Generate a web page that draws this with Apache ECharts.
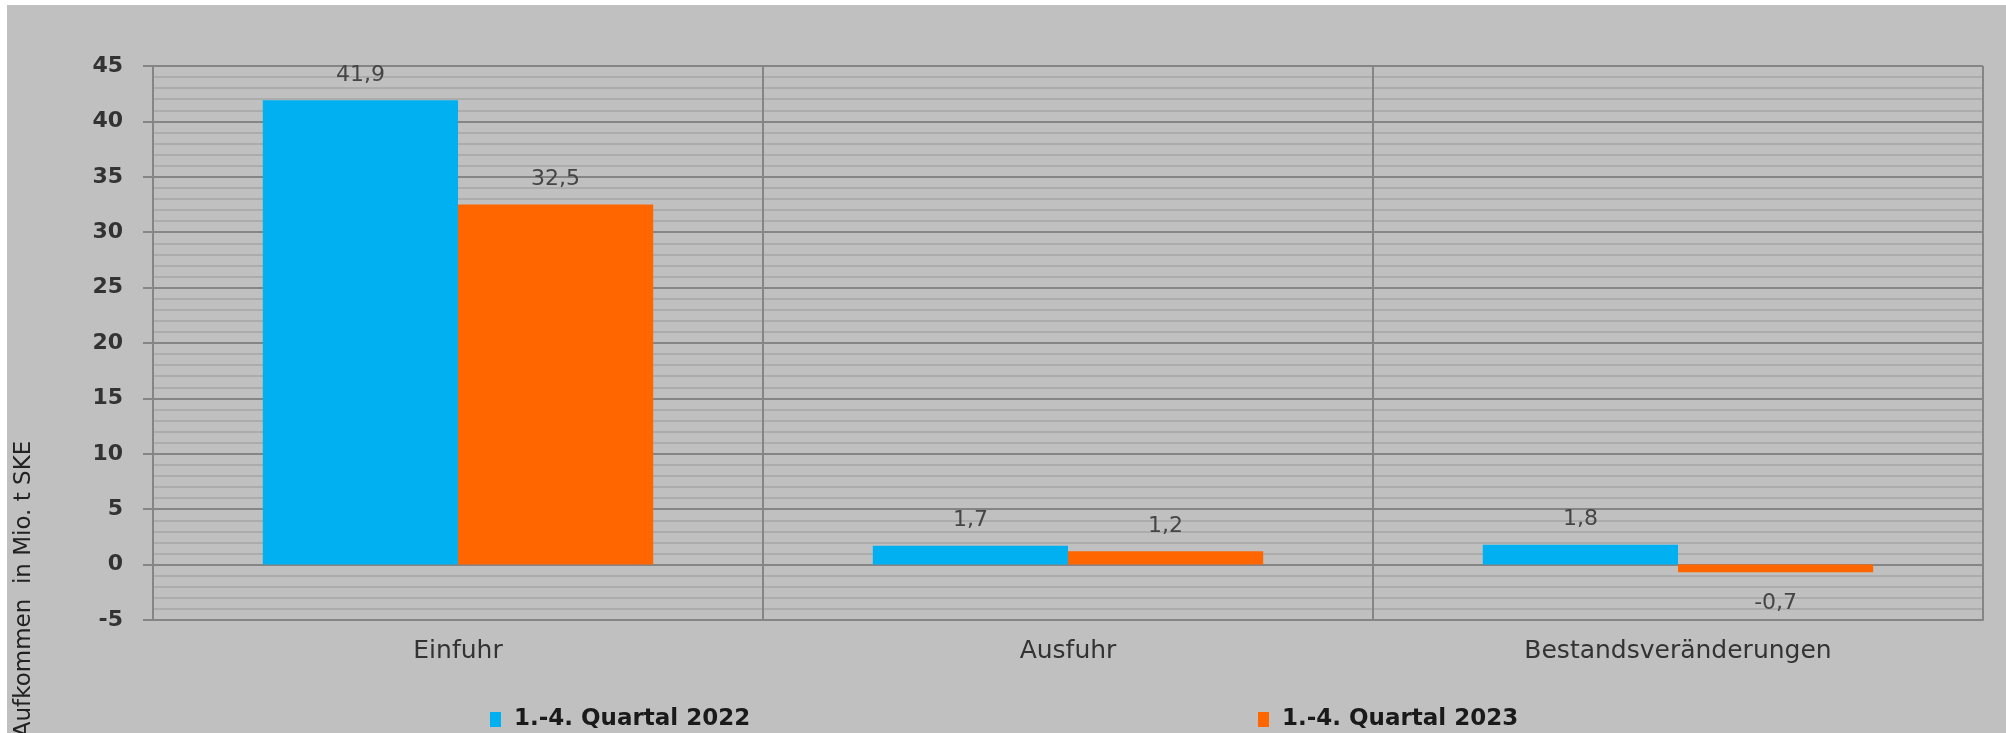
<!DOCTYPE html>
<html>
<head>
<meta charset="utf-8">
<script src="https://cdn.jsdelivr.net/npm/echarts@6/dist/echarts.min.js"></script>
<style>
  html, body { margin: 0; padding: 0; background: #ffffff; width: 2006px; height: 733px; overflow: hidden; }
  #chart { position: absolute; left: 7px; top: 5px; width: 1999px; height: 728px; background: #c0c0c0; }
</style>
</head>
<body>
<div id="chart"></div>
<script>
// Coal supply balance, quarters 1-4: 2022 vs 2023 (Mio. t SKE)
const categories = ['Einfuhr', 'Ausfuhr', 'Bestandsveränderungen'];
const seriesNames = ['1.-4. Quartal 2022', '1.-4. Quartal 2023'];
const values2022 = [41.9, 1.7, 1.8];
const values2023 = [32.5, 1.2, -0.7];
const yMin = -5;
const yMax = 45;
const yStep = 5;
const yTitle = 'Aufkommen  in Mio. t SKE';

const colors = ['#00b0f0', '#ff6600'];
const gridDark = '#858585';
const gridLight = '#acacac';

function fmt(v) {
  return String(v).replace('.', ',');
}

// negative values get their label below the bar end
function barData(values) {
  return values.map(function (v) {
    if (v < 0) {
      return { value: v, label: { position: 'bottom', distance: 20 } };
    }
    return v;
  });
}

const labelStyle = {
  show: true,
  position: 'top',
  distance: 14,
  fontFamily: 'DejaVu Sans',
  fontSize: 22,
  color: '#454545',
  formatter: function (p) { return fmt(p.value); }
};

const legendText = { fontFamily: 'DejaVu Sans', fontWeight: 'bold', fontSize: 23, color: '#1a1a1a', padding: [0, 0, 0, 8] };

const chart = echarts.init(document.getElementById('chart'), null, { renderer: 'canvas' });

chart.setOption({
  backgroundColor: '#c0c0c0',
  animation: false,
  color: colors,
  grid: { left: 146, right: 23, top: 61, bottom: 113 },
  legend: [
    {
      data: [seriesNames[0]], left: 478, top: 698,
      icon: 'rect', itemWidth: 11, itemHeight: 15,
      textStyle: legendText
    },
    {
      data: [seriesNames[1]], left: 1246, top: 698,
      icon: 'rect', itemWidth: 11, itemHeight: 15,
      textStyle: legendText
    }
  ],
  xAxis: {
    type: 'category',
    data: categories,
    axisLine: { show: true, onZero: false, lineStyle: { color: gridDark, width: 2 } },
    axisTick: { show: false },
    axisLabel: { margin: 19, fontFamily: 'DejaVu Sans', fontSize: 25, color: '#333333' },
    splitLine: { show: true, lineStyle: { color: gridDark, width: 2 } }
  },
  yAxis: {
    type: 'value',
    min: yMin,
    max: yMax,
    interval: yStep,
    axisLine: { show: true, lineStyle: { color: gridDark, width: 2 } },
    axisTick: { show: true, length: 10, lineStyle: { color: gridDark, width: 2 } },
    axisLabel: { margin: 30, fontFamily: 'DejaVu Sans', fontWeight: 'bold', fontSize: 22, color: '#333333' },
    splitLine: { show: true, lineStyle: { color: gridDark, width: 2 } },
    minorTick: { show: false, splitNumber: 5 },
    minorSplitLine: { show: true, lineStyle: { color: gridLight, width: 2 } }
  },
  series: [
    {
      name: seriesNames[0],
      type: 'bar',
      data: barData(values2022),
      barGap: '0%',
      barCategoryGap: '36%',
      label: labelStyle
    },
    {
      name: seriesNames[1],
      type: 'bar',
      data: barData(values2023),
      barGap: '0%',
      barCategoryGap: '36%',
      label: labelStyle
    }
  ],
  graphic: [
    {
      type: 'text',
      x: 17,
      y: 584,
      rotation: Math.PI / 2,
      style: {
        text: yTitle,
        fontFamily: 'DejaVu Sans',
        fontSize: 23,
        fill: '#222222',
        align: 'center',
        verticalAlign: 'middle'
      }
    }
  ]
});
</script>
</body>
</html>
